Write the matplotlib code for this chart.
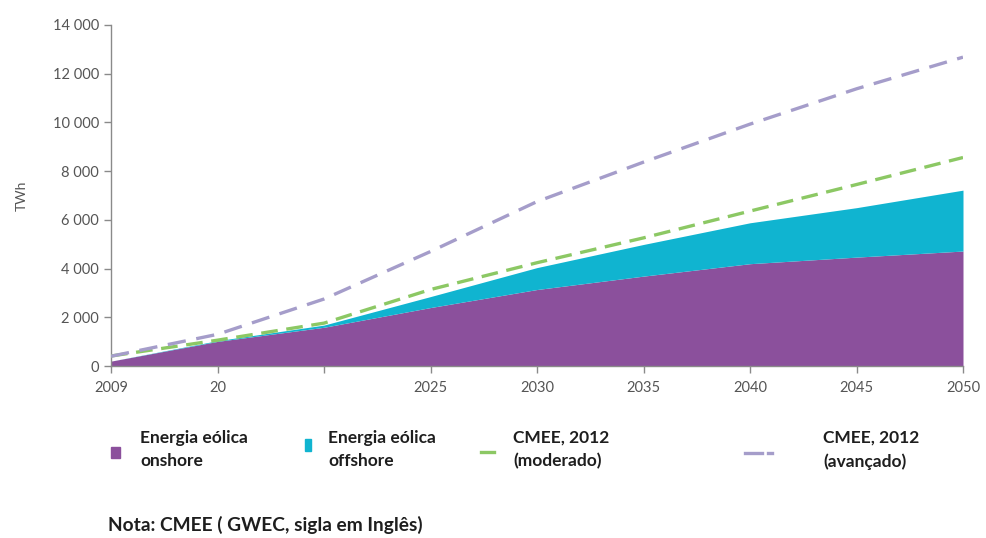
import matplotlib
matplotlib.use("Agg")
import matplotlib.pyplot as plt
from matplotlib.lines import Line2D
from matplotlib.patches import Rectangle
import numpy as np

plt.rcParams['font.family'] = ['Lato', 'DejaVu Sans']

# Projection points (TWh), evenly spaced on the horizontal axis
tick_labels = ["2009", "20", "", "2025", "2030", "2035", "2040", "2045", "2050"]
onshore = [200, 1010, 1590, 2400, 3140, 3690, 4200, 4470, 4720]
offshore = [0, 30, 90, 450, 900, 1300, 1680, 2030, 2500]
moderado = [410, 1060, 1760, 3140, 4240, 5260, 6360, 7450, 8560]
avancado = [400, 1300, 2750, 4700, 6750, 8370, 9930, 11380, 12680]
y_ticks = [0, 2000, 4000, 6000, 8000, 10000, 12000, 14000]

c_on = "#8b509c"
c_off = "#10b4d0"
c_mod = "#8cc864"
c_adv = "#a59dca"
c_axis = "#8a8a8a"
c_text = "#555555"
c_dark = "#1e1e1e"

fig = plt.figure(figsize=(9.86, 5.38), dpi=100)
ax = fig.add_axes([111 / 986, 1 - 366 / 538, (963 - 111) / 986, (366 - 25) / 538])

x = np.arange(len(tick_labels))
on = np.array(onshore)
total = on + np.array(offshore)

ax.fill_between(x, 0, on, color=c_on, lw=0, zorder=2)
ax.fill_between(x, on, total, color=c_off, lw=0, zorder=2)
ax.plot(x, moderado, color=c_mod, lw=2.4, dashes=(5, 2.6), zorder=3)
ax.plot(x, avancado, color=c_adv, lw=2.4, dashes=(5.5, 3.2), zorder=3)

ax.set_xlim(0, len(x) - 1)
ax.set_ylim(0, 14000)
ax.set_xticks(x)
ax.set_xticklabels(tick_labels)
ax.set_yticks(y_ticks)
ax.set_yticklabels([f"{v:,}".replace(",", " ") for v in y_ticks])
ax.set_ylabel("TWh", color=c_text, fontsize=10, labelpad=18)

for s in ("top", "right"):
    ax.spines[s].set_visible(False)
for s in ("left", "bottom"):
    ax.spines[s].set_color(c_axis)
    ax.spines[s].set_linewidth(1.0)
ax.tick_params(axis="both", colors=c_axis, labelcolor=c_text, labelsize=10.5,
               length=5, width=1.0)
ax.tick_params(axis="x", pad=6)

# Legend, laid out in figure coordinates
def fx(px):
    return px / 986

def fy(py):
    return 1 - py / 538

fig.add_artist(Rectangle((fx(111), fy(458)), 9 / 986, 11 / 538, color=c_on,
                         transform=fig.transFigure))
fig.add_artist(Rectangle((fx(305), fy(451)), 6 / 986, 12 / 538, color=c_off,
                         transform=fig.transFigure))
fig.add_artist(Line2D([fx(481), fx(494)], [fy(452), fy(452)], color=c_mod, lw=2.4,
                      transform=fig.transFigure))
fig.add_artist(Line2D([fx(745), fx(762)], [fy(453), fy(453)], color=c_adv, lw=2.4,
                      transform=fig.transFigure))
fig.add_artist(Line2D([fx(768), fx(772)], [fy(453), fy(453)], color=c_adv, lw=2.4,
                      transform=fig.transFigure))

legend_texts = [
    (140, "Energia eólica\nonshore"),
    (328, "Energia eólica\noffshore"),
    (513, "CMEE, 2012\n(moderado)"),
    (823, "CMEE, 2012\n(avançado)"),
]
for px, txt in legend_texts:
    fig.text(fx(px), fy(430), txt, ha="left", va="top", fontsize=12.5,
             fontweight="bold", color=c_dark, linespacing=1.55)

fig.text(fx(108), fy(525), "Nota: CMEE ( GWEC, sigla em Inglês)", ha="left",
         va="center", fontsize=13.8, fontweight="bold", color=c_dark)

fig.savefig("out.png", dpi=100, facecolor="white")
